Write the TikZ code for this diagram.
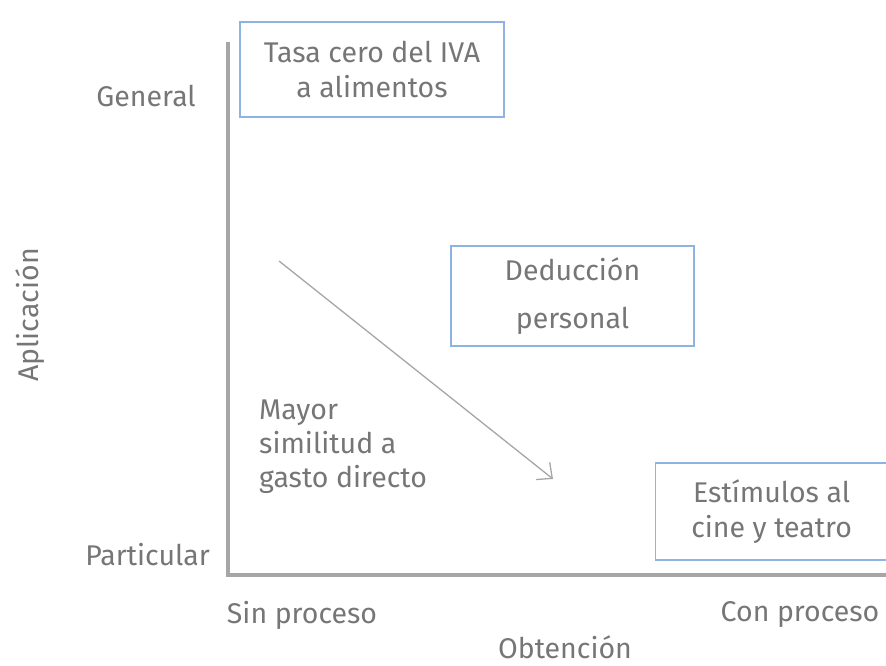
\documentclass[tikz,border=0pt]{standalone}
\usepackage{fontspec}
\setmainfont{Fira Sans}
\usetikzlibrary{positioning,arrows.meta}
\definecolor{axisgray}{HTML}{A6A6A6}
\definecolor{textgray}{HTML}{767676}
\definecolor{boxblue}{HTML}{8DB3E2}
\tikzstyle{boxstyle} = [rectangle,
draw=boxblue,
line width=1.2pt,
text centered,
align=center,
inner sep=0pt,
text=textgray,
font=\fontsize{28.5}{35}\selectfont]
\tikzstyle{labelstyle} = [text=textgray,
inner sep=0pt,
font=\fontsize{28.5}{34}\selectfont]
\tikzstyle{axis} = [draw=axisgray, line width=4pt]
\tikzstyle{arrow} = [draw=axisgray, line width=1.3pt, -{Straight Barb[length=12pt,width=22pt]}]

\begin{document}
\begin{tikzpicture}[x=1pt,y=-1pt]
\useasboundingbox (0,0) rectangle (886,666);
% axes
\coordinate (origin) at (228,575);
\coordinate (ytop) at (228,42);
\coordinate (xend) at (886,575);
\draw [axis] (ytop) -- (origin) -- (xend);

\node (general) [labelstyle, anchor=east] at (196,96) {General};
\node (particular) [labelstyle, anchor=east] at (210,555) {Particular};
\node (aplicacion) [labelstyle, rotate=90] at (30,315) {Aplicación};
\node (sinproceso) [labelstyle] at (302,615) {Sin proceso};
\node (conproceso) [labelstyle] at (800,615) {Con proceso};
\node (obtencion) [labelstyle, anchor=base] at (565,658) {Obtención};

% boxes
\node (tasa) [boxstyle, minimum width=264pt, minimum height=95pt] at (372,69.5) {Tasa cero del IVA\\a alimentos};
\node (deduccion) [boxstyle, minimum width=243pt, minimum height=100pt,
  font=\fontsize{28.5}{48}\selectfont] at (572.5,296) {Deducción\\personal};
\node (estimulos) [boxstyle, minimum width=232pt, minimum height=97pt, anchor=west] at (655,511.5) {Estímulos al\\cine y teatro};

\node (mayor) [labelstyle, align=left, anchor=north west] at (259,400) {Mayor\\similitud a\\gasto directo};

\coordinate (astart) at (279,261);
\coordinate (aend) at (553,479);
\draw [arrow] (astart) -- (aend);
\end{tikzpicture}
\end{document}
